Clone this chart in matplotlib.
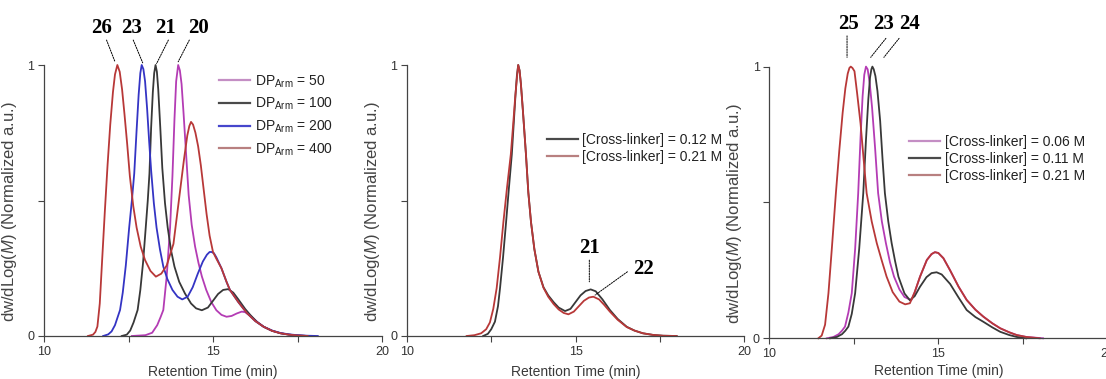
import matplotlib
matplotlib.use("Agg")
import matplotlib.pyplot as plt

plt.rcParams['font.family'] = ['Liberation Sans', 'DejaVu Sans']
plt.rcParams['mathtext.fontset'] = 'custom'
plt.rcParams['mathtext.rm'] = 'Liberation Sans'
plt.rcParams['mathtext.it'] = 'Liberation Sans:italic'

# ---- panel 1: arm length series ----
dp50_t = [12.6, 13.0, 13.2, 13.35, 13.45, 13.53, 13.63, 13.73, 13.8, 13.86, 13.91, 13.97, 14.02, 14.07,
          14.13, 14.2, 14.28, 14.37, 14.47, 14.57, 14.67, 14.8, 14.95, 15.1, 15.25, 15.4, 15.55, 15.7,
          15.85, 15.95, 16.1, 16.3, 16.5, 16.75, 17.0, 17.25, 17.5, 17.8]
dp50_v = [0, 0.003, 0.012, 0.04, 0.07, 0.096, 0.22, 0.40, 0.59, 0.80, 0.94, 1.0, 0.98, 0.93,
          0.82, 0.68, 0.52, 0.41, 0.33, 0.27, 0.22, 0.17, 0.125, 0.095, 0.078, 0.071, 0.074, 0.083,
          0.09, 0.088, 0.075, 0.053, 0.034, 0.019, 0.01, 0.005, 0.002, 0]

dp100_t = [12.3, 12.45, 12.55, 12.65, 12.77, 12.85, 12.93, 13.01, 13.07, 13.12, 13.17, 13.22, 13.26, 13.3,
           13.34, 13.38, 13.44, 13.5, 13.58, 13.66, 13.76, 13.86, 14.0, 14.17, 14.35, 14.5, 14.67, 14.85,
           15.0, 15.15, 15.3, 15.45, 15.6, 15.75, 15.95, 16.1, 16.3, 16.5, 16.75, 17.0, 17.25, 17.5, 17.8]
dp100_v = [0, 0.005, 0.02, 0.05, 0.096, 0.17, 0.27, 0.40, 0.50, 0.60, 0.77, 0.90, 0.97, 1.0,
           0.975, 0.91, 0.77, 0.62, 0.49, 0.40, 0.315, 0.256, 0.20, 0.157, 0.12, 0.102, 0.095, 0.105,
           0.13, 0.155, 0.17, 0.173, 0.16, 0.135, 0.10, 0.078, 0.052, 0.034, 0.019, 0.01, 0.005, 0.002, 0]

dp200_t = [11.75, 11.9, 12.0, 12.1, 12.18, 12.25, 12.33, 12.42, 12.52, 12.6, 12.67, 12.74, 12.8, 12.85,
           12.89, 12.94, 12.99, 13.05, 13.11, 13.17, 13.25, 13.33, 13.43, 13.53, 13.65, 13.8, 13.95,
           14.09, 14.25, 14.4, 14.55, 14.7, 14.82, 14.9, 14.96, 15.03, 15.1, 15.25, 15.4, 15.5, 15.75,
           16.0, 16.25, 16.5, 16.75, 17.0, 17.25, 17.5, 17.8, 18.1]
dp200_v = [0, 0.006, 0.017, 0.04, 0.07, 0.096, 0.16, 0.26, 0.40, 0.50, 0.60, 0.76, 0.89, 0.97,
           1.0, 0.985, 0.94, 0.84, 0.72, 0.61, 0.49, 0.40, 0.32, 0.256, 0.21, 0.17, 0.145,
           0.135, 0.145, 0.18, 0.23, 0.275, 0.30, 0.31, 0.31, 0.305, 0.29, 0.25, 0.20, 0.17, 0.125,
           0.085, 0.055, 0.034, 0.02, 0.011, 0.006, 0.003, 0.001, 0]

dp400_t = [11.3, 11.45, 11.52, 11.58, 11.65, 11.72, 11.8, 11.88, 11.96, 12.04, 12.1, 12.17, 12.24, 12.31,
           12.38, 12.46, 12.54, 12.64, 12.74, 12.86, 12.99, 13.15, 13.31, 13.47, 13.63, 13.83, 14.02,
           14.14, 14.24, 14.3, 14.35, 14.41, 14.48, 14.56, 14.64, 14.72, 14.81, 14.9, 15.0, 15.1, 15.25,
           15.4, 15.5, 15.75, 16.0, 16.25, 16.5, 16.75, 17.0, 17.25, 17.5, 17.8]
dp400_v = [0, 0.005, 0.015, 0.035, 0.12, 0.28, 0.46, 0.63, 0.78, 0.90, 0.965, 1.0, 0.975, 0.91,
           0.82, 0.71, 0.59, 0.48, 0.40, 0.33, 0.28, 0.24, 0.219, 0.23, 0.26, 0.34, 0.53,
           0.65, 0.74, 0.775, 0.79, 0.78, 0.75, 0.70, 0.63, 0.545, 0.45, 0.37, 0.31, 0.285, 0.25,
           0.20, 0.17, 0.125, 0.085, 0.055, 0.034, 0.019, 0.01, 0.005, 0.002, 0]

# ---- panel 2: two cross-linker concentrations ----
cl012_t = [12.26, 12.4, 12.5, 12.61, 12.7, 12.76, 12.85, 12.94, 13.02, 13.11, 13.17, 13.22, 13.26, 13.3,
           13.34, 13.38, 13.44, 13.53, 13.6, 13.68, 13.78, 13.9, 14.05, 14.19, 14.35, 14.5, 14.69, 14.85,
           15.0, 15.15, 15.3, 15.45, 15.6, 15.8, 16.02, 16.25, 16.52, 16.75, 17.0, 17.3, 17.6, 18.0]
cl012_v = [0, 0.008, 0.025, 0.053, 0.11, 0.176, 0.29, 0.42, 0.54, 0.67, 0.79, 0.89, 0.96, 1.0,
           0.98, 0.93, 0.83, 0.67, 0.53, 0.42, 0.32, 0.237, 0.18, 0.15, 0.125, 0.105, 0.092, 0.10,
           0.125, 0.15, 0.166, 0.172, 0.165, 0.135, 0.096, 0.063, 0.034, 0.02, 0.01, 0.004, 0.001, 0]

cl021b_t = [11.77, 12.0, 12.2, 12.35, 12.46, 12.56, 12.66, 12.76, 12.86, 12.97, 13.08, 13.15, 13.21, 13.26,
            13.3, 13.34, 13.38, 13.44, 13.53, 13.6, 13.68, 13.78, 13.9, 14.05, 14.19, 14.35, 14.5, 14.65,
            14.79, 14.95, 15.1, 15.25, 15.4, 15.53, 15.7, 15.85, 16.02, 16.25, 16.52, 16.75, 17.0, 17.3,
            17.6, 18.0]
cl021b_v = [0, 0.003, 0.01, 0.025, 0.05, 0.10, 0.176, 0.29, 0.42, 0.55, 0.67, 0.78, 0.88, 0.95,
            1.0, 0.98, 0.93, 0.83, 0.67, 0.53, 0.42, 0.32, 0.237, 0.178, 0.145, 0.118, 0.098, 0.085,
            0.08, 0.09, 0.11, 0.13, 0.142, 0.145, 0.135, 0.115, 0.09, 0.06, 0.033, 0.02, 0.01, 0.004,
            0.001, 0]

# ---- panel 3: three cross-linker concentrations ----
cl006_t = [11.7, 11.9, 12.05, 12.15, 12.24, 12.34, 12.44, 12.54, 12.63, 12.7, 12.76, 12.81, 12.86, 12.91,
           12.97, 13.04, 13.13, 13.22, 13.33, 13.45, 13.57, 13.69, 13.85, 14.0, 14.2, 14.3, 14.46, 14.66,
           14.8, 14.9, 15.0, 15.15, 15.35, 15.6, 15.84, 16.1, 16.33, 16.6, 16.83, 17.1, 17.32, 17.6, 18.1]
cl006_v = [0, 0.005, 0.015, 0.028, 0.043, 0.095, 0.166, 0.33, 0.534, 0.74, 0.89, 0.97, 1.0, 0.99,
           0.94, 0.85, 0.70, 0.534, 0.43, 0.35, 0.28, 0.227, 0.18, 0.152, 0.14, 0.168, 0.227, 0.288,
           0.31, 0.317, 0.314, 0.295, 0.25, 0.19, 0.141, 0.105, 0.08, 0.055, 0.037, 0.022, 0.012, 0.005, 0]

cl011_t = [11.8, 12.0, 12.15, 12.25, 12.34, 12.44, 12.54, 12.66, 12.78, 12.86, 12.93, 12.98, 13.02, 13.05,
           13.09, 13.14, 13.2, 13.28, 13.35, 13.42, 13.52, 13.62, 13.72, 13.82, 14.0, 14.16, 14.3, 14.46,
           14.65, 14.8, 14.95, 15.1, 15.35, 15.6, 15.84, 16.1, 16.33, 16.6, 16.83, 17.1, 17.32, 17.6]
cl011_v = [0, 0.005, 0.015, 0.028, 0.043, 0.09, 0.166, 0.33, 0.534, 0.73, 0.88, 0.96, 0.99, 1.0,
           0.99, 0.965, 0.91, 0.80, 0.66, 0.534, 0.43, 0.35, 0.285, 0.227, 0.165, 0.14, 0.155, 0.19,
           0.225, 0.24, 0.243, 0.235, 0.20, 0.15, 0.104, 0.078, 0.061, 0.04, 0.024, 0.012, 0.005, 0]

cl021_t = [11.45, 11.55, 11.65, 11.75, 11.85, 11.97, 12.07, 12.17, 12.25, 12.32, 12.37, 12.41, 12.46, 12.52,
           12.6, 12.7, 12.79, 12.88, 13.03, 13.18, 13.33, 13.47, 13.65, 13.85, 14.02, 14.16, 14.3, 14.46,
           14.66, 14.8, 14.9, 15.0, 15.15, 15.35, 15.6, 15.84, 16.1, 16.33, 16.6, 16.83, 17.1, 17.32, 17.6, 18.0]
cl021_v = [0, 0.01, 0.05, 0.166, 0.33, 0.534, 0.69, 0.83, 0.92, 0.974, 0.995, 1.0, 0.995, 0.983,
           0.90, 0.79, 0.66, 0.534, 0.43, 0.35, 0.285, 0.227, 0.17, 0.135, 0.125, 0.129, 0.17, 0.227,
           0.288, 0.31, 0.317, 0.314, 0.295, 0.25, 0.19, 0.141, 0.105, 0.08, 0.055, 0.037, 0.022, 0.012, 0.005, 0]

MAG = '#b43cb4'
BLK = '#383838'
BLU = '#3434c4'
RED = '#b83838'
LEG_COL = {MAG: '#c48ec4', BLK: '#4a4a4a', BLU: '#4646cc', RED: '#b88080'}

fig = plt.figure(figsize=(11.06, 3.79), dpi=100)
W, H = 1106.0, 379.0
ax1 = fig.add_axes([44 / W, 1 - 336 / H, 338 / W, 271 / H])
ax2 = fig.add_axes([407 / W, 1 - 336 / H, 337 / W, 271 / H])
ax3 = fig.add_axes([769.3 / W, 1 - 338.3 / H, 338 / W, 271.7 / H])

for ax in (ax1, ax2, ax3):
    ax.set_xlim(10, 20)
    ax.set_ylim(0, 1)
    for s in ('top', 'right'):
        ax.spines[s].set_visible(False)
    for s in ('left', 'bottom'):
        ax.spines[s].set_color('#444444')
        ax.spines[s].set_linewidth(0.9)
    ax.set_xticks([10, 12.5, 15, 17.5, 20])
    ax.set_xticklabels(['10', '', '15', '', '20'])
    ax.set_yticks([0, 0.5, 1])
    ax.set_yticklabels(['0', '', '1'])
    ax.tick_params(direction='out', length=4, width=0.8, color='#444444',
                   labelsize=9, labelcolor='#333333', pad=3)
    ax.set_xlabel('Retention Time (min)', fontsize=10, color='#3a3a3a',
                  labelpad=3 if ax is ax3 else 5)
    ax.set_ylabel('dw/dLog($\\mathit{M}$) (Normalized a.u.)', fontsize=12, color='#444444')
    ax.yaxis.set_label_coords(-0.074, 0.46)


def curve(ax, t, v, col, lab):
    ax.plot(t, v, color=col, lw=1.3, label=lab, clip_on=False, solid_joinstyle='round')


def legend(ax, x, y, spacing):
    leg = ax.legend(loc='center left', bbox_to_anchor=(x, y), frameon=False, fontsize=10,
                    handlelength=2.25, handletextpad=0.3, borderpad=0, borderaxespad=0,
                    labelspacing=spacing, labelcolor='#222222')
    for ln in leg.get_lines():
        ln.set_color(LEG_COL.get(ln.get_color(), ln.get_color()))
        ln.set_linewidth(1.6)


def mark(ax, txt, txy, p0, p1):
    ax.text(txy[0], txy[1], txt, ha='center', va='center', fontsize=15, fontweight='bold',
            family='Liberation Serif', clip_on=False)
    ax.annotate('', xy=p1, xytext=p0, annotation_clip=False,
                arrowprops=dict(arrowstyle='-', lw=0.7, ls=(0, (1.5, 1.2)), color='black',
                                shrinkA=0, shrinkB=0))


curve(ax1, dp50_t, dp50_v, MAG, 'DP$_{\\mathrm{Arm}}$ = 50')
curve(ax1, dp100_t, dp100_v, BLK, 'DP$_{\\mathrm{Arm}}$ = 100')
curve(ax1, dp200_t, dp200_v, BLU, 'DP$_{\\mathrm{Arm}}$ = 200')
curve(ax1, dp400_t, dp400_v, RED, 'DP$_{\\mathrm{Arm}}$ = 400')
legend(ax1, 0.518, 0.814, 0.45)
mark(ax1, '26', (11.71, 1.135), (11.85, 1.092), (12.10, 1.012))
mark(ax1, '23', (12.59, 1.135), (12.64, 1.092), (12.92, 1.008))
mark(ax1, '21', (13.58, 1.135), (13.68, 1.092), (13.33, 1.005))
mark(ax1, '20', (14.56, 1.135), (14.30, 1.092), (13.97, 1.012))

curve(ax2, cl012_t, cl012_v, BLK, '[Cross-linker] = 0.12 M')
curve(ax2, cl021b_t, cl021b_v, RED, '[Cross-linker] = 0.21 M')
legend(ax2, 0.4145, 0.692, 0.2)
mark(ax2, '21', (15.41, 0.324), (15.41, 0.28), (15.41, 0.20))
mark(ax2, '22', (17.01, 0.246), (16.54, 0.237), (15.58, 0.151))

curve(ax3, cl006_t, cl006_v, MAG, '[Cross-linker] = 0.06 M')
curve(ax3, cl011_t, cl011_v, BLK, '[Cross-linker] = 0.11 M')
curve(ax3, cl021_t, cl021_v, RED, '[Cross-linker] = 0.21 M')
legend(ax3, 0.414, 0.66, 0.2)
mark(ax3, '25', (12.33, 1.155), (12.30, 1.113), (12.30, 1.034))
mark(ax3, '23', (13.38, 1.155), (13.45, 1.104), (13.0, 1.034))
mark(ax3, '24', (14.14, 1.155), (13.84, 1.104), (13.39, 1.034))

fig.savefig('out.png', dpi=100)
